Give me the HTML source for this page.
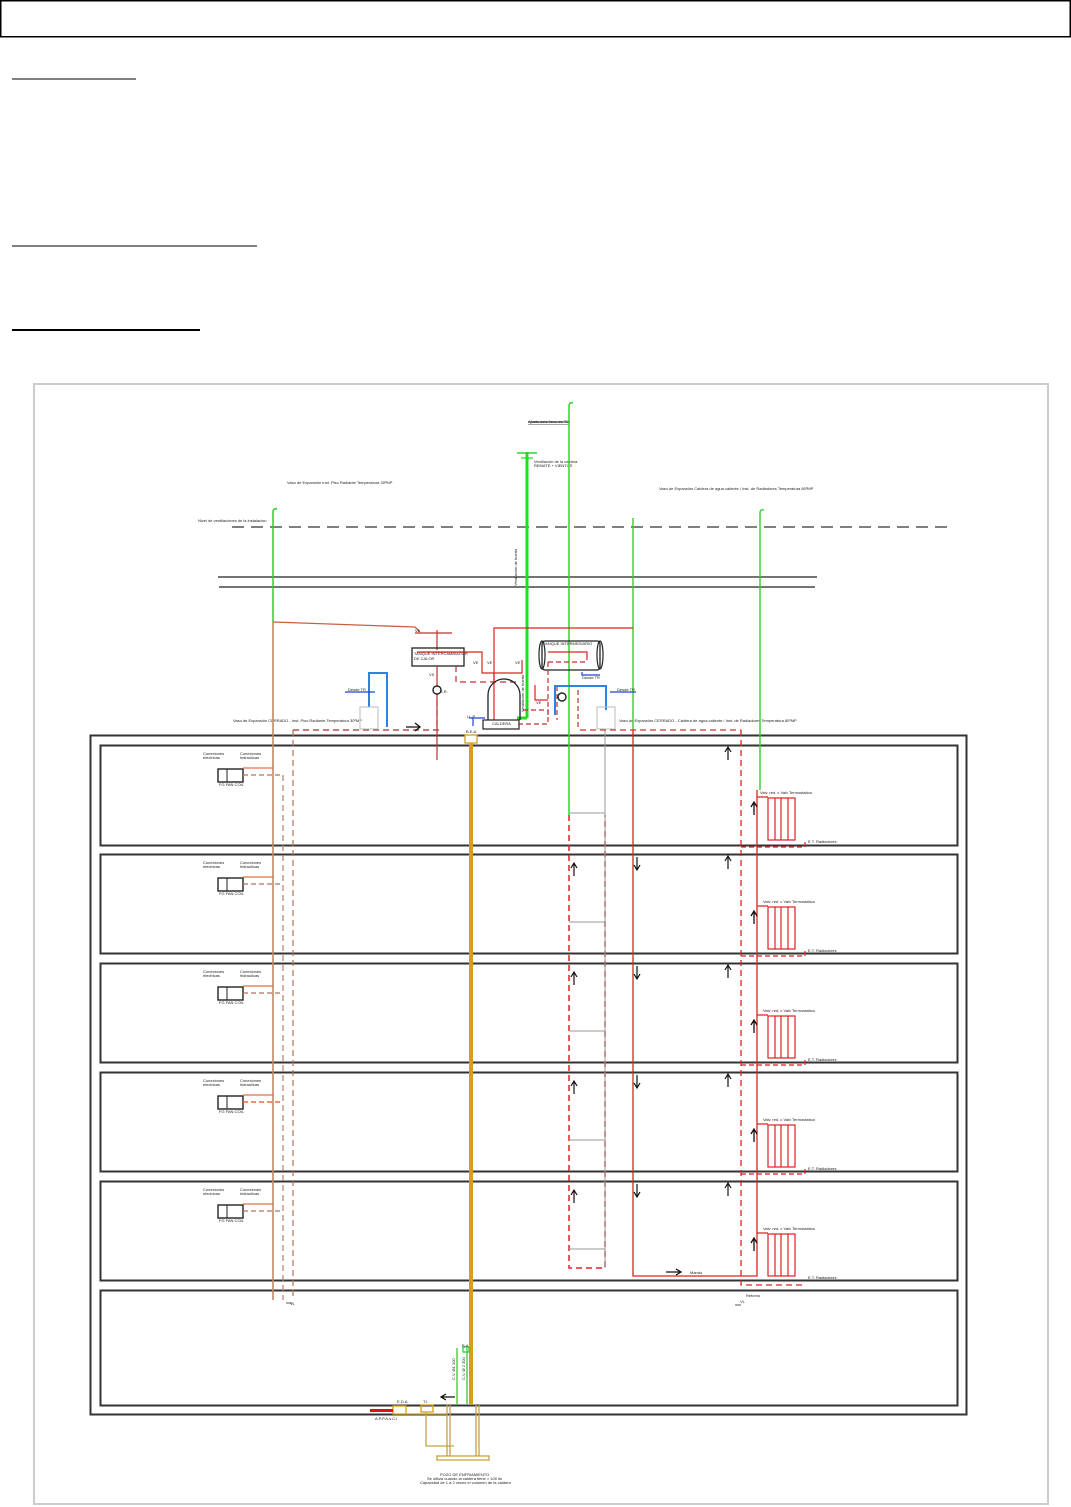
<!DOCTYPE html>
<html><head><meta charset="utf-8"><style>
html,body{margin:0;padding:0;background:#fff;}
svg{display:block;}
text{font-family:"Liberation Sans",sans-serif;font-size:4px;fill:#222;}
</style></head><body>
<svg width="1071" height="1507" viewBox="0 0 1071 1507" xmlns="http://www.w3.org/2000/svg">
<rect x="0.75" y="0.75" width="1069.5" height="36" fill="none" stroke="#000" stroke-width="1.5"/>
<line x1="12" y1="79" x2="136" y2="79" stroke="#000" stroke-width="1"/>
<line x1="12" y1="246" x2="257" y2="246" stroke="#000" stroke-width="1"/>
<line x1="12" y1="330" x2="200" y2="330" stroke="#000" stroke-width="2"/>
<rect x="34" y="384" width="1014" height="1120" fill="none" stroke="#ccc" stroke-width="2"/>

<!-- roof / levels -->
<line x1="232" y1="527" x2="950" y2="527" stroke="#333" stroke-width="1.3" stroke-dasharray="12,7"/>
<text x="198" y="522">Nivel de ventilaciones de la instalacion</text>
<line x1="218" y1="577" x2="817" y2="577" stroke="#222" stroke-width="1.3"/>
<line x1="219" y1="587" x2="815" y2="587" stroke="#222" stroke-width="1.3"/>
<text x="287" y="484">Vaso de Expansión Inst. Piso Radiante  Temperatura 30ºMP</text>
<text x="659" y="490">Vaso de Expansión Caldera de agua caliente /  Inst. de Radiadores Temperatura 80ºMP</text>
<text x="528" y="423" style="text-decoration:underline">Ajuste solo lleno de TS</text>
<line x1="528" y1="422" x2="570" y2="422" stroke="#333" stroke-width="1"/>
<text x="534" y="463">Ventilación de la caldera</text>
<text x="534" y="467">REMATE + VIENTOS</text>
<text x="233" y="722">Vaso de Expansión CERRADO - Inst. Piso Radiante  Temperatura 30ºMP</text>
<text x="619" y="722">Vaso de Expansión CERRADO - Caldera de agua caliente /  Inst. de Radiadores Temperatura 80ºMP</text>

<!-- building -->
<rect x="90.5" y="735.5" width="876" height="679" fill="none" stroke="#333" stroke-width="2"/>
<g fill="none" stroke="#333" stroke-width="2">
<rect x="100.5" y="745.5" width="857" height="100"/>
<rect x="100.5" y="854.5" width="857" height="99"/>
<rect x="100.5" y="963.5" width="857" height="99"/>
<rect x="100.5" y="1072.5" width="857" height="99"/>
<rect x="100.5" y="1181.5" width="857" height="99"/>
<rect x="100.5" y="1290.5" width="857" height="115"/>
</g>

<!-- main verticals -->
<path d="M273 622 V512 Q273 508 277 509" fill="none" stroke="#3c3" stroke-width="1.5"/>
<path d="M273 622 L415 627 L420 632" fill="none" stroke="#c86040" stroke-width="1.3"/>
<line x1="273" y1="622" x2="273" y2="1300" stroke="#c08868" stroke-width="1.6"/>
<line x1="293" y1="730" x2="293" y2="1300" stroke="#b07060" stroke-width="1.2" stroke-dasharray="6,4"/>
<path d="M293 730 H440" stroke="#b05050" stroke-width="1.5" stroke-dasharray="6,4" fill="none"/>
<line x1="283" y1="775" x2="283" y2="1300" stroke="#b08070" stroke-width="1.2" stroke-dasharray="6,4"/>
<line x1="471" y1="742" x2="471" y2="1405" stroke="#d4a017" stroke-width="4"/>
<rect x="465" y="735" width="12" height="8" fill="#fff" stroke="#d4a017" stroke-width="1.3"/>
<text x="466" y="733">B.E.A.</text>

<path d="M569 815 V406 Q569 402 573 403" fill="none" stroke="#2d2" stroke-width="1.5"/>
<line x1="527" y1="452" x2="527" y2="718" stroke="#2d2" stroke-width="3"/>
<line x1="517" y1="453" x2="537" y2="453" stroke="#2d2" stroke-width="1.5"/>
<line x1="521" y1="458" x2="533" y2="458" stroke="#2d2" stroke-width="1.2"/>
<path d="M527 718 H517" stroke="#2d2" stroke-width="3"/>
<line x1="633" y1="518" x2="633" y2="730" stroke="#3c3" stroke-width="1.4"/>
<path d="M760 790 V513 Q760 509 764 510" fill="none" stroke="#3c3" stroke-width="1.4"/>
<path d="M633 730 V1276 H757 V790" fill="none" stroke="#e02020" stroke-width="1.3"/>
<path d="M569 815 V1268 H605 V815" fill="none" stroke="#e02020" stroke-width="1.5" stroke-dasharray="6,4"/>
<line x1="605" y1="730" x2="605" y2="1268" stroke="#999" stroke-width="1"/>
<path d="M741 730 V1285 H805" fill="none" stroke="#e02020" stroke-width="1.3" stroke-dasharray="6,4"/>
<path d="M580 730 H741" fill="none" stroke="#d03030" stroke-width="1.3" stroke-dasharray="6,4"/>
<text x="690" y="1274">Mando</text>
<text x="746" y="1297">Retorno</text>
<text x="290" y="1305">VL</text>
<text x="740" y="1303">VL</text>
<line x1="286" y1="1303" x2="292" y2="1303" stroke="#333" stroke-width="0.8"/>
<line x1="735" y1="1305" x2="741" y2="1305" stroke="#333" stroke-width="0.8"/>

<!-- machine room -->
<g fill="none" stroke-width="1.2">
<path d="M494 720 V628 H633" stroke="#e02020"/>
<path d="M437 630 V650 M415 633 H452" stroke="#c03030"/>
<rect x="412" y="648" width="52" height="18" stroke="#222" stroke-width="1.3"/>
<path d="M417 652 H482 V673 H522 V660 M494 673 V680" stroke="#e02020"/>
<path d="M437 666 V760" stroke="#c03030"/>
<path d="M456 666 V682 H520" stroke="#c03030" stroke-dasharray="6,4"/>
<path d="M437 700 V730" stroke="#c03030" stroke-dasharray="6,4"/>
<path d="M488 720 V695 A16 16 0 0 1 520 695 V720" stroke="#222" stroke-width="1.3"/>
<rect x="483" y="720" width="36" height="9" stroke="#222"/>
<path d="M523 710 H548 V724 H518" stroke="#c03030" stroke-dasharray="5,3"/>
<path d="M535 685 V700 H548" stroke="#e02020"/>
<rect x="542" y="641" width="58" height="29" rx="3" stroke="#222" stroke-width="1.3"/>
<ellipse cx="542" cy="655" rx="3" ry="14" stroke="#222"/>
<ellipse cx="600" cy="655" rx="3" ry="14" stroke="#222"/>
<path d="M548 652 H587 V660" stroke="#e02020"/>
<path d="M548 662 H585 M548 662 V715" stroke="#c03030" stroke-dasharray="5,3"/>
<path d="M582 672 V675 H600" stroke="#2244cc"/>
<path d="M557 686 V720 M558 686 H578 V730" stroke="#c03030" stroke-dasharray="5,3"/>
<path d="M555 715 V686 H606 V710" stroke="#3080e0" stroke-width="2"/>
<path d="M369 707 V673 H387 V727" stroke="#3080e0" stroke-width="2"/>
<path d="M345 692 H375 M610 692 H636" stroke="#2244cc"/>
<rect x="360" y="707" width="18" height="22" stroke="#bbb" stroke-width="1"/>
<rect x="597" y="707" width="18" height="22" stroke="#bbb" stroke-width="1"/>
<path d="M473 718 V726 M469 718 H485" stroke="#2244cc"/>
</g>
<circle cx="437" cy="690" r="4" fill="#fff" stroke="#222" stroke-width="1.4"/>
<circle cx="562" cy="697" r="4" fill="#fff" stroke="#222" stroke-width="1.4"/>
<text x="414" y="655">TANQUE INTERCAMBIADOR</text>
<text x="414" y="660">DE CALOR</text>
<text x="543" y="645">TANQUE INTERMEDIARIO</text>
<text x="582" y="679">Desde TR</text>
<text x="492" y="725">CALDERA</text>
<text x="348" y="691">Desde TR</text>
<text x="617" y="691">Desde TR</text>
<text x="467" y="718">LL.P.</text>
<text x="440" y="693">S.R.</text>
<text x="415" y="632">VE</text>
<text x="473" y="664">VE</text>
<text x="487" y="664">VE</text>
<text x="515" y="664">VE</text>
<text x="429" y="676">VS</text>
<text x="536" y="704">VE</text>
<text x="517" y="586" transform="rotate(-90 517 586)">Ventilación de huerta</text>
<text x="524" y="712" transform="rotate(-90 524 712)">Ventilación de huerta</text>
<path d="M406 727 H420 M415 723 L420 727 L415 731" fill="none" stroke="#111" stroke-width="1.3"/>

<!-- floors -->
<g transform="translate(0,0)">
<rect x="218" y="769" width="25" height="13" fill="none" stroke="#222" stroke-width="1.4"/>
<line x1="227" y1="769" x2="227" y2="782" stroke="#222"/>
<path d="M243 768 H273" stroke="#e07040" stroke-width="1.2"/>
<path d="M243 775 H283" stroke="#b07060" stroke-width="1.2" stroke-dasharray="5,3"/>
<text x="203" y="755">Conexiones</text><text x="203" y="759">electricas</text>
<text x="240" y="755">Conexiones</text><text x="240" y="759">hidraulicas</text>
<text x="219" y="786">FG FAN COIL</text>
<rect x="768" y="798" width="27" height="42" fill="none" stroke="#e02020" stroke-width="1.2"/>
<path d="M757 797 H768 M775 798 V840 M781 798 V840 M788 798 V840" stroke="#e02020" stroke-width="1.2"/>
<path d="M741 847 H805 V840" fill="none" stroke="#e02020" stroke-width="1.2" stroke-dasharray="5,3"/>
<text x="760" y="794">Valv. red. c Valv Termostatica</text>
<text x="808" y="843">E.T. Radiadores</text>
<path d="M754 815 V803 M751 807 L754 802 L757 807" fill="none" stroke="#111" stroke-width="1.3"/>
<path d="M728 760 V748 M725 752 L728 747 L731 752" fill="none" stroke="#111" stroke-width="1.2"/>
<line x1="569" y1="813" x2="605" y2="813" stroke="#999" stroke-width="1"/>
</g>
<g transform="translate(0,109)">
<rect x="218" y="769" width="25" height="13" fill="none" stroke="#222" stroke-width="1.4"/>
<line x1="227" y1="769" x2="227" y2="782" stroke="#222"/>
<path d="M243 768 H273" stroke="#e07040" stroke-width="1.2"/>
<path d="M243 775 H283" stroke="#b07060" stroke-width="1.2" stroke-dasharray="5,3"/>
<text x="203" y="755">Conexiones</text><text x="203" y="759">electricas</text>
<text x="240" y="755">Conexiones</text><text x="240" y="759">hidraulicas</text>
<text x="219" y="786">FG FAN COIL</text>
<rect x="768" y="798" width="27" height="42" fill="none" stroke="#e02020" stroke-width="1.2"/>
<path d="M757 797 H768 M775 798 V840 M781 798 V840 M788 798 V840" stroke="#e02020" stroke-width="1.2"/>
<path d="M741 847 H805 V840" fill="none" stroke="#e02020" stroke-width="1.2" stroke-dasharray="5,3"/>
<text x="763" y="794">Valv. red. c Valv Termostatica</text>
<text x="808" y="843">E.T. Radiadores</text>
<path d="M754 815 V803 M751 807 L754 802 L757 807" fill="none" stroke="#111" stroke-width="1.3"/>
<path d="M728 760 V748 M725 752 L728 747 L731 752" fill="none" stroke="#111" stroke-width="1.2"/>
<path d="M574 767 V755 M571 759 L574 754 L577 759" fill="none" stroke="#111" stroke-width="1.2"/>
<path d="M637 748 V760 M634 756 L637 761 L640 756" fill="none" stroke="#111" stroke-width="1.2"/>
<line x1="569" y1="813" x2="605" y2="813" stroke="#999" stroke-width="1"/>
</g>
<g transform="translate(0,218)">
<rect x="218" y="769" width="25" height="13" fill="none" stroke="#222" stroke-width="1.4"/>
<line x1="227" y1="769" x2="227" y2="782" stroke="#222"/>
<path d="M243 768 H273" stroke="#e07040" stroke-width="1.2"/>
<path d="M243 775 H283" stroke="#b07060" stroke-width="1.2" stroke-dasharray="5,3"/>
<text x="203" y="755">Conexiones</text><text x="203" y="759">electricas</text>
<text x="240" y="755">Conexiones</text><text x="240" y="759">hidraulicas</text>
<text x="219" y="786">FG FAN COIL</text>
<rect x="768" y="798" width="27" height="42" fill="none" stroke="#e02020" stroke-width="1.2"/>
<path d="M757 797 H768 M775 798 V840 M781 798 V840 M788 798 V840" stroke="#e02020" stroke-width="1.2"/>
<path d="M741 847 H805 V840" fill="none" stroke="#e02020" stroke-width="1.2" stroke-dasharray="5,3"/>
<text x="763" y="794">Valv. red. c Valv Termostatica</text>
<text x="808" y="843">E.T. Radiadores</text>
<path d="M754 815 V803 M751 807 L754 802 L757 807" fill="none" stroke="#111" stroke-width="1.3"/>
<path d="M728 760 V748 M725 752 L728 747 L731 752" fill="none" stroke="#111" stroke-width="1.2"/>
<path d="M574 767 V755 M571 759 L574 754 L577 759" fill="none" stroke="#111" stroke-width="1.2"/>
<path d="M637 748 V760 M634 756 L637 761 L640 756" fill="none" stroke="#111" stroke-width="1.2"/>
<line x1="569" y1="813" x2="605" y2="813" stroke="#999" stroke-width="1"/>
</g>
<g transform="translate(0,327)">
<rect x="218" y="769" width="25" height="13" fill="none" stroke="#222" stroke-width="1.4"/>
<line x1="227" y1="769" x2="227" y2="782" stroke="#222"/>
<path d="M243 768 H273" stroke="#e07040" stroke-width="1.2"/>
<path d="M243 775 H283" stroke="#e07040" stroke-width="1.5" stroke-dasharray="5,3"/>
<text x="203" y="755">Conexiones</text><text x="203" y="759">electricas</text>
<text x="240" y="755">Conexiones</text><text x="240" y="759">hidraulicas</text>
<text x="219" y="786">FG FAN COIL</text>
<rect x="768" y="798" width="27" height="42" fill="none" stroke="#e02020" stroke-width="1.2"/>
<path d="M757 797 H768 M775 798 V840 M781 798 V840 M788 798 V840" stroke="#e02020" stroke-width="1.2"/>
<path d="M741 847 H805 V840" fill="none" stroke="#e02020" stroke-width="1.2" stroke-dasharray="5,3"/>
<text x="763" y="794">Valv. red. c Valv Termostatica</text>
<text x="808" y="843">E.T. Radiadores</text>
<path d="M754 815 V803 M751 807 L754 802 L757 807" fill="none" stroke="#111" stroke-width="1.3"/>
<path d="M728 760 V748 M725 752 L728 747 L731 752" fill="none" stroke="#111" stroke-width="1.2"/>
<path d="M574 767 V755 M571 759 L574 754 L577 759" fill="none" stroke="#111" stroke-width="1.2"/>
<path d="M637 748 V760 M634 756 L637 761 L640 756" fill="none" stroke="#111" stroke-width="1.2"/>
<line x1="569" y1="813" x2="605" y2="813" stroke="#999" stroke-width="1"/>
</g>
<g transform="translate(0,436)">
<rect x="218" y="769" width="25" height="13" fill="none" stroke="#222" stroke-width="1.4"/>
<line x1="227" y1="769" x2="227" y2="782" stroke="#222"/>
<path d="M243 768 H273" stroke="#e07040" stroke-width="1.2"/>
<path d="M243 775 H283" stroke="#b07060" stroke-width="1.2" stroke-dasharray="5,3"/>
<text x="203" y="755">Conexiones</text><text x="203" y="759">electricas</text>
<text x="240" y="755">Conexiones</text><text x="240" y="759">hidraulicas</text>
<text x="219" y="786">FG FAN COIL</text>
<rect x="768" y="798" width="27" height="42" fill="none" stroke="#e02020" stroke-width="1.2"/>
<path d="M757 797 H768 M775 798 V840 M781 798 V840 M788 798 V840" stroke="#e02020" stroke-width="1.2"/>
<text x="763" y="794">Valv. red. c Valv Termostatica</text>
<text x="808" y="843">E.T. Radiadores</text>
<path d="M754 815 V803 M751 807 L754 802 L757 807" fill="none" stroke="#111" stroke-width="1.3"/>
<path d="M728 760 V748 M725 752 L728 747 L731 752" fill="none" stroke="#111" stroke-width="1.2"/>
<path d="M574 767 V755 M571 759 L574 754 L577 759" fill="none" stroke="#111" stroke-width="1.2"/>
<path d="M637 748 V760 M634 756 L637 761 L640 756" fill="none" stroke="#111" stroke-width="1.2"/>
<line x1="569" y1="813" x2="605" y2="813" stroke="#999" stroke-width="1"/>
</g>
<path d="M666 1272 H680 M676 1269 L681 1272 L676 1275" fill="none" stroke="#111" stroke-width="1.3"/>

<!-- bottom well -->
<g fill="none" stroke-width="1.3">
<path d="M457 1405 V1348 M467 1405 V1348" stroke="#3c3"/>
<rect x="463" y="1347" width="6" height="5" stroke="#3c3"/>
<rect x="393" y="1406" width="13" height="8" stroke="#d4a017"/>
<rect x="421" y="1405" width="12" height="7" stroke="#d4a017"/>
<path d="M406 1414 H447 M426 1412 V1446 H454" stroke="#c8a040"/>
<path d="M447 1405 V1456 M450 1405 V1456 M476 1405 V1456 M479 1405 V1456" stroke="#c8a040"/>
<rect x="437" y="1456" width="52" height="4" stroke="#c8a040"/>
</g>
<rect x="370" y="1409" width="23" height="3" fill="#dd1111"/>
<path d="M442 1397 H455 M446 1394 L441 1397 L446 1400" fill="none" stroke="#111" stroke-width="1.3"/>
<text x="397" y="1403">E.D.A.</text>
<text x="423" y="1403">T.I.</text>
<text x="375" y="1420">A.P.P.A.s.C.I</text>
<text x="462" y="1347">B.A</text>
<text x="455" y="1380" transform="rotate(-90 455 1380)">C.V. Ø1 100</text>
<text x="465" y="1380" transform="rotate(-90 465 1380)">C.V. Ø 2 300</text>
<text x="440" y="1476">POZO DE ENFRIAMIENTO</text>
<text x="427" y="1480">Se utiliza cuando la caldera tiene &gt; 100 lts</text>
<text x="420" y="1484">Capacidad de 1 a 2 veces el volumen de la caldera</text>
</svg>
</body></html>
